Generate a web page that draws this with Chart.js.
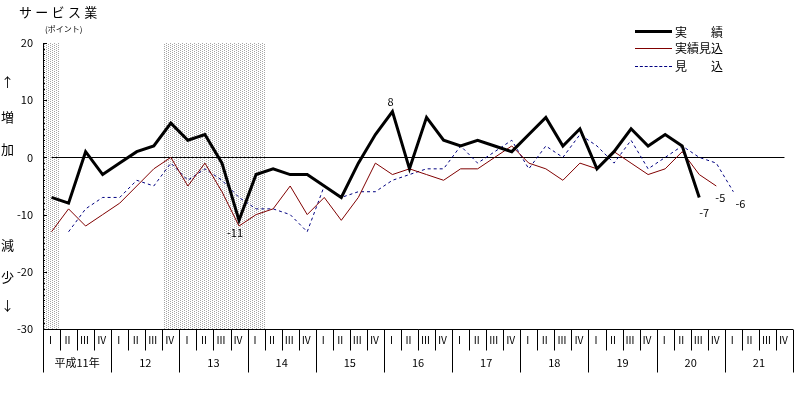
<!DOCTYPE html>
<html lang="ja">
<head>
<meta charset="utf-8">
<title>サービス業</title>
<script src="https://cdn.jsdelivr.net/npm/chart.js@4"></script>
<style>
  body { margin: 0; background: #fff; }
  #wrap { position: relative; width: 803px; height: 399px; font-family: "Noto Sans CJK JP", sans-serif; color: #000; }
  #wrap canvas { position: absolute; left: 0; top: 0; }
  .txt { position: absolute; white-space: nowrap; line-height: 1; }
  .side { position: absolute; left: 0; width: 15px; text-align: center; font-size: 13px; line-height: 14px; }
  .key { position: absolute; left: 635px; width: 37px; height: 0; }
  .keytxt { position: absolute; left: 675px; font-size: 12px; line-height: 12px; white-space: nowrap; }
</style>
</head>
<body>
<div id="wrap">
  <canvas id="chart" width="803" height="399"></canvas>
  <div class="txt" style="left:19px;top:5px;font-size:13px;letter-spacing:3.3px;">サービス業</div>
  <div class="txt" style="left:45px;top:25px;font-size:8px;">(ポイント)</div>
  <div class="side" style="top:75px;">↑</div>
  <div class="side" style="top:110px;">増</div>
  <div class="side" style="top:142px;">加</div>
  <div class="side" style="top:238px;">減</div>
  <div class="side" style="top:270px;">少</div>
  <div class="side" style="top:298px;">↓</div>
  <div class="key" style="top:30px;border-top:3px solid #000;"></div>
  <div class="keytxt" style="top:26px;">実　　績</div>
  <div class="key" style="top:48px;border-top:1px solid #800000;"></div>
  <div class="keytxt" style="top:42px;">実績見込</div>
  <div class="key" style="top:66px;border-top:1px dashed #000080;"></div>
  <div class="keytxt" style="top:60px;">見　　込</div>
</div>
<script>
// quarters and fiscal years (平成)
var quarters = ['Ⅰ', 'Ⅱ', 'Ⅲ', 'Ⅳ'];
var years = ['平成11年', '12', '13', '14', '15', '16', '17', '18', '19', '20', '21'];

// 実績 (actual)
var jisseki = [-7, -8, 1, -3, -1, 1, 2, 6, 3, 4, -1, -11, -3, -2, -3, -3, -5, -7, -1, 4,
  8, -2, 7, 3, 2, 3, 2, 1, 4, 7, 2, 5, -2, 1, 5, 2, 4, 2, -7, null, null, null, null, null];
// 実績見込 (estimate for the current quarter)
var jissekiMikomi = [-13, -9, -12, -10, -8, -5, -2, 0, -5, -1, -6, -12, -10, -9, -5, -10, -7, -11, -7, -1,
  -3, -2, -3, -4, -2, -2, 0, 2, -1, -2, -4, -1, -2, 1, -1, -3, -2, 1, -3, -5, null, null, null, null];
// 見込 (outlook for the next quarter)
var mikomi = [null, -13, -9, -7, -7, -4, -5, -1, -4, -2, -4, -7, -9, -9, -10, -13, -5, -7, -6, -6,
  -4, -3, -2, -2, 2, -1, 1, 3, -2, 2, 0, 4, 2, -1, 3, -2, 0, 2, 0, -1, -6, null, null, null];

// shaded quarter ranges (first and last index)
var shadedQuarters = [[0, 0], [7, 12]];
var yMin = -30, yMax = 20;

var labels = [];
years.forEach(function(y) { quarters.forEach(function(q) { labels.push(y + ' ' + q); }); });

function dotPattern(ctx) {
  var c = document.createElement('canvas');
  c.width = 4; c.height = 2;
  var p = c.getContext('2d');
  p.fillStyle = '#ffffff';
  p.fillRect(0, 0, 4, 2);
  p.fillStyle = '#a4a4a4';
  p.fillRect(0, 0, 1, 1);
  p.fillRect(2, 1, 1, 1);
  return ctx.createPattern(c, 'repeat');
}

var backgroundPlugin = {
  id: 'background',
  beforeDatasetsDraw: function(chart) {
    var ctx = chart.ctx, area = chart.chartArea, x = chart.scales.x, y = chart.scales.y;
    var band = x.getPixelForValue(1) - x.getPixelForValue(0);
    ctx.save();
    ctx.fillStyle = dotPattern(ctx);
    shadedQuarters.forEach(function(r) {
      var x0 = Math.round(x.getPixelForValue(r[0]) - band / 2);
      var x1 = Math.round(x.getPixelForValue(r[1]) + band / 2);
      ctx.fillRect(x0 + 1, area.top, x1 - x0 - 1, area.bottom - area.top);
    });
    // zero line
    var y0 = Math.round(y.getPixelForValue(0)) + 0.5;
    ctx.strokeStyle = '#000';
    ctx.lineWidth = 1;
    ctx.beginPath();
    ctx.moveTo(x.getPixelForValue(0), y0);
    ctx.lineTo(x.getPixelForValue(labels.length - 1), y0);
    ctx.stroke();
    // minor ticks on the y axis
    for (var v = yMin; v <= yMax; v++) {
      var py = Math.round(y.getPixelForValue(v)) + 0.5;
      ctx.beginPath();
      ctx.moveTo(area.left, py);
      ctx.lineTo(area.left + (v % 10 === 0 ? 4 : 2), py);
      ctx.stroke();
    }
    ctx.restore();
  }
};

var axisTablePlugin = {
  id: 'axisTable',
  afterDraw: function(chart) {
    var ctx = chart.ctx, area = chart.chartArea, x = chart.scales.x;
    var band = x.getPixelForValue(1) - x.getPixelForValue(0);
    var bottom = Math.round(area.bottom) + 0.5;
    var left = Math.round(area.left) + 0.5;
    ctx.save();
    ctx.strokeStyle = '#000';
    ctx.lineWidth = 1;
    ctx.beginPath();
    ctx.moveTo(left, area.top);
    ctx.lineTo(left, bottom + 43);
    ctx.moveTo(left, bottom);
    ctx.lineTo(area.right, bottom);
    for (var i = 1; i <= labels.length; i++) {
      var px = Math.round(x.getPixelForValue(i - 1) + band / 2) + 0.5;
      ctx.moveTo(px, bottom);
      ctx.lineTo(px, bottom + (i % 4 === 0 ? 43 : 21));
    }
    ctx.stroke();
    ctx.fillStyle = '#000';
    ctx.textAlign = 'center';
    ctx.textBaseline = 'middle';
    ctx.font = '10px "Noto Sans CJK JP", sans-serif';
    for (var j = 0; j < labels.length; j++) {
      ctx.fillText(quarters[j % 4], x.getPixelForValue(j) - 1, bottom + 11);
    }
    ctx.font = '11px "Noto Sans CJK JP", sans-serif';
    years.forEach(function(yr, k) {
      var cx = (x.getPixelForValue(k * 4) + x.getPixelForValue(k * 4 + 3)) / 2;
      ctx.fillText(yr, cx, bottom + 33);
    });
    ctx.restore();
  }
};

// value labels next to selected points
var pointLabels = [
  { ds: 0, index: 20, dx: -2, dy: -10 },
  { ds: 0, index: 11, dx: -4, dy: 12 },
  { ds: 0, index: 38, dx: 5, dy: 15 },
  { ds: 1, index: 39, dx: 4, dy: 12 },
  { ds: 2, index: 40, dx: 7, dy: 12 }
];

var valueLabelPlugin = {
  id: 'valueLabels',
  afterDatasetsDraw: function(chart) {
    var ctx = chart.ctx;
    ctx.save();
    ctx.fillStyle = '#000';
    ctx.textAlign = 'center';
    ctx.textBaseline = 'middle';
    ctx.font = '11px "Noto Sans CJK JP", sans-serif';
    pointLabels.forEach(function(l) {
      var pt = chart.getDatasetMeta(l.ds).data[l.index];
      var v = chart.data.datasets[l.ds].data[l.index];
      ctx.fillText(String(v), pt.x + l.dx, pt.y + l.dy);
    });
    ctx.restore();
  }
};

Chart.defaults.font.family = '"Noto Sans CJK JP", sans-serif';
Chart.defaults.color = '#000';

new Chart(document.getElementById('chart').getContext('2d'), {
  type: 'line',
  data: {
    labels: labels,
    datasets: [
      { label: '実績', data: jisseki, borderColor: '#000', borderWidth: 3, pointRadius: 0, tension: 0, borderJoinStyle: 'miter' },
      { label: '実績見込', data: jissekiMikomi, borderColor: '#800000', borderWidth: 1, pointRadius: 0, tension: 0 },
      { label: '見込', data: mikomi, borderColor: '#000080', borderWidth: 1, borderDash: [3, 3], pointRadius: 0, tension: 0 }
    ]
  },
  options: {
    responsive: false,
    animation: false,
    layout: { padding: { top: 43, right: 10, bottom: 70, left: 0 } },
    plugins: {
      legend: { display: false },
      title: { display: false },
      tooltip: { enabled: false }
    },
    scales: {
      x: { type: 'category', display: false, offset: true },
      y: {
        min: yMin,
        max: yMax,
        afterFit: function(scale) { scale.width = 43; },
        ticks: { stepSize: 10, padding: 10, font: { size: 11 }, color: '#000' },
        grid: { display: false, drawTicks: false },
        border: { display: true, color: '#000', width: 1 }
      }
    }
  },
  plugins: [backgroundPlugin, axisTablePlugin, valueLabelPlugin]
});
</script>
</body>
</html>
